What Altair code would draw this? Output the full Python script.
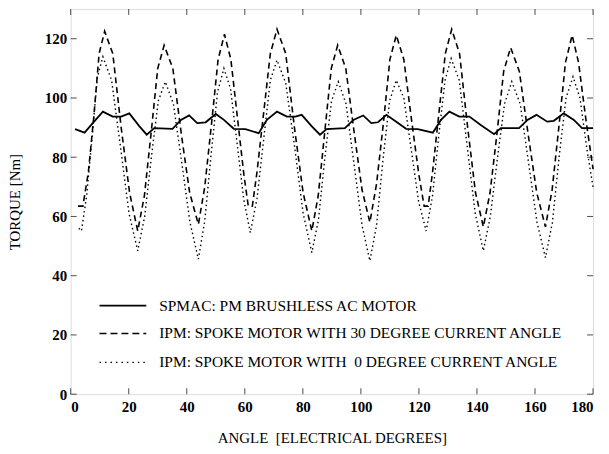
import altair as alt
import pandas as pd

# ---- data ----
angle_spmac = [1.5, 4.8, 7.6, 11.1, 14.5, 17.4, 20.2, 23.7, 26.2, 28.8, 35.1, 38.0, 40.8, 43.6, 46.5,
               50.0, 52.8, 56.2, 60.2, 64.8, 67.6, 71.1, 74.5, 77.4, 79.6, 83.1, 85.9, 88.2, 94.5,
               97.4, 100.8, 103.6, 105.9, 108.8, 111.7, 115.6, 119.6, 124.8, 127.6, 130.5, 133.9,
               137.4, 141.3, 145.9, 148.2, 154.5, 157.4, 160.5, 164.2, 166.5, 169.9, 173.4, 176.2, 180.0]
torque_spmac = [89.5, 88.3, 91.5, 95.4, 93.7, 93.7, 94.8, 90.4, 87.6, 89.8, 89.6, 92.6, 94.1, 91.5, 91.8,
                94.6, 92.6, 89.6, 89.5, 88.1, 92.6, 95.4, 93.7, 93.7, 94.3, 90.4, 87.6, 89.5, 89.8,
                92.6, 94.1, 91.5, 91.8, 94.3, 92.3, 89.6, 89.5, 88.3, 92.6, 95.4, 93.7,
                93.7, 90.9, 87.8, 89.8, 89.8, 92.6, 94.3, 92.0, 92.3, 94.8, 92.6, 89.8, 89.8]

angle_ipm30 = [2.5, 4.2, 6.1, 8.0, 9.8, 11.7, 14.5, 17.4, 20.3, 23.1, 25.4, 27.7, 30.0, 32.2,
               35.2, 38.1, 41.0, 44.0, 46.2, 48.5, 50.8, 53.0, 55.2, 57.5, 59.7, 61.2, 62.6,
               64.2, 66.5, 68.8, 71.1, 74.1, 77.1, 80.1, 83.1, 85.3, 87.5, 89.8, 92.0,
               94.8, 97.6, 100.4, 103.1, 105.4, 107.7, 110.0, 112.2, 114.8, 117.4, 120.0, 121.8, 123.2,
               124.7, 126.9, 129.1, 131.3, 134.0, 136.8, 139.5, 142.2, 144.5, 146.9, 149.2, 151.6,
               154.6, 157.6, 160.6, 163.6, 165.9, 168.2, 170.5, 172.8, 175.0, 177.5, 180.0]
torque_ipm30 = [63.5, 63.5, 75, 94, 115, 122.5, 115, 90, 68, 55.1, 67, 88, 110, 117.8,
                110, 88, 68, 57.3, 70, 91, 113, 121.5, 113, 93, 74, 63.5, 63.5,
                75, 95, 115, 123.2, 115, 90, 68, 55.1, 67, 88, 110, 117.8,
                110, 89, 69, 58.0, 71, 91, 113, 121.2, 113, 93, 74, 63.5, 63.5,
                75, 95, 115, 123.2, 115, 90, 68, 56.5, 68, 88, 109, 117.0,
                109, 88, 68, 56.5, 69, 90, 112, 121.2, 112, 93, 76]

angle_ipm0 = [2.8, 3.7, 5.5, 7.4, 9.2, 11.1, 14.1, 17.1, 20.1, 23.1, 25.5, 27.8, 30.2, 32.6,
              35.4, 38.3, 41.1, 44.0, 46.2, 48.4, 50.6, 52.8, 55.1, 57.3, 59.6, 61.9,
              64.2, 66.5, 68.8, 71.1, 74.1, 77.1, 80.1, 83.1, 85.4, 87.6, 89.9, 92.2,
              94.9, 97.6, 100.4, 103.1, 105.4, 107.6, 109.9, 112.2, 114.8, 117.3, 119.9, 122.5,
              124.7, 126.8, 129.0, 131.1, 133.9, 136.6, 139.4, 142.2, 144.6, 147.1, 149.5, 152.0,
              154.9, 157.8, 160.7, 163.6, 166.0, 168.3, 170.7, 173.1, 175.5, 178.0, 180.0]
torque_ipm0 = [56, 55.1, 67, 87, 107, 113.9, 106, 84, 61, 48.4, 60, 80, 99, 105.5,
               98, 78, 58, 45.6, 58.5, 81, 102, 110, 103, 85, 66, 54.5,
               66, 86, 106, 112.8, 105, 84, 61, 47.8, 59, 80, 99, 105.5,
               98, 78, 57, 45.0, 57, 79, 99, 106, 100, 83, 65, 55.1,
               67, 87, 106, 113.3, 106, 84, 61, 48.4, 60, 80, 98, 105.5,
               98, 78, 58, 46.1, 58, 80, 100, 107.2, 100, 82, 70]

x_ticks = [0, 20, 40, 60, 80, 100, 120, 140, 160, 180]
y_ticks = [0, 20, 40, 60, 80, 100, 120]
legend_labels = ["SPMAC: PM BRUSHLESS AC MOTOR",
                 "IPM: SPOKE MOTOR WITH 30 DEGREE CURRENT ANGLE",
                 "IPM: SPOKE MOTOR WITH \u00a00 DEGREE CURRENT ANGLE"]
x_title = "ANGLE \u00a0[ELECTRICAL DEGREES]"
y_title = "TORQUE [Nm]"

W, H = 525, 387
FONT = "Liberation Serif"

df_s = pd.DataFrame({"angle": angle_spmac, "torque": torque_spmac})
df_30 = pd.DataFrame({"angle": angle_ipm30, "torque": torque_ipm30})
df_0 = pd.DataFrame({"angle": angle_ipm0, "torque": torque_ipm0})
df_xt = pd.DataFrame({"v": x_ticks})
df_yt = pd.DataFrame({"v": y_ticks})

xscale = alt.Scale(domain=[0, 180], nice=False, zero=False)
yscale = alt.Scale(domain=[0, 130], nice=False)

xaxis = alt.Axis(values=x_ticks, ticks=False, domain=False, grid=False, labelFont=FONT,
                 labelFontSize=15, labelFontWeight="bold", labelColor="black", labelPadding=5,
                 title=x_title, titleFont=FONT, titleFontSize=15,
                 titleFontWeight="normal", titleColor="black", titlePadding=17)
yaxis = alt.Axis(values=y_ticks, ticks=False, domain=False, grid=False, labelFont=FONT,
                 labelFontSize=15, labelFontWeight="bold", labelColor="black", labelPadding=4,
                 title=y_title, titleFont=FONT, titleFontSize=15,
                 titleFontWeight="normal", titleColor="black", titlePadding=22)

def line(df, dash, width):
    kw = {}
    if dash is not None:
        kw["strokeDash"] = dash
    return alt.Chart(df).mark_line(color="black", strokeWidth=width, **kw).encode(
        x=alt.X("angle:Q", scale=xscale, axis=xaxis),
        y=alt.Y("torque:Q", scale=yscale, axis=yaxis),
        order="angle:Q",
    )

l_solid = line(df_s, None, 1.8)
l_dash = line(df_30, [6, 4], 1.6)
l_dot = line(df_0, [1.5, 3], 1.4)

tick_bottom = alt.Chart(df_xt).mark_tick(color="black", orient="vertical", size=6, thickness=1).encode(
    x=alt.X("v:Q", scale=xscale, axis=xaxis), y=alt.value(H - 3))
tick_top = alt.Chart(df_xt).mark_tick(color="black", orient="vertical", size=6, thickness=1).encode(
    x=alt.X("v:Q", scale=xscale, axis=xaxis), y=alt.value(3))
tick_left = alt.Chart(df_yt).mark_tick(color="black", orient="horizontal", size=6, thickness=1).encode(
    y=alt.Y("v:Q", scale=yscale, axis=yaxis), x=alt.value(3))
tick_right = alt.Chart(df_yt).mark_tick(color="black", orient="horizontal", size=6, thickness=1).encode(
    y=alt.Y("v:Q", scale=yscale, axis=yaxis), x=alt.value(W - 3))

rows_y = [298, 326, 355]
dashes = [None, [7, 4], [1.5, 4]]
widths = [1.8, 1.6, 1.4]
leg_layers = []
for lab, ry, d, w in zip(legend_labels, rows_y, dashes, widths):
    kw = {"strokeDash": d} if d is not None else {}
    leg_layers.append(
        alt.Chart(pd.DataFrame({"l": [lab]})).mark_rule(color="black", strokeWidth=w, **kw).encode(
            x=alt.value(29), x2=alt.value(76), y=alt.value(ry)))
    leg_layers.append(
        alt.Chart(pd.DataFrame({"l": [lab]})).mark_text(
            align="left", baseline="middle", font=FONT, fontSize=15.5, color="black").encode(
            text="l:N", x=alt.value(89), y=alt.value(ry)))

chart = alt.layer(l_solid, l_dash, l_dot, tick_bottom, tick_top, tick_left, tick_right,
                  *leg_layers).properties(
    width=W, height=H,
    autosize=alt.AutoSizeParams(type="none"),
    padding={"left": 63, "top": 0, "right": 8, "bottom": 58},
).configure_view(stroke="black", strokeWidth=1.5).configure(background="white")

chart.save("out.html", embed_options={"renderer": "svg", "actions": False})
